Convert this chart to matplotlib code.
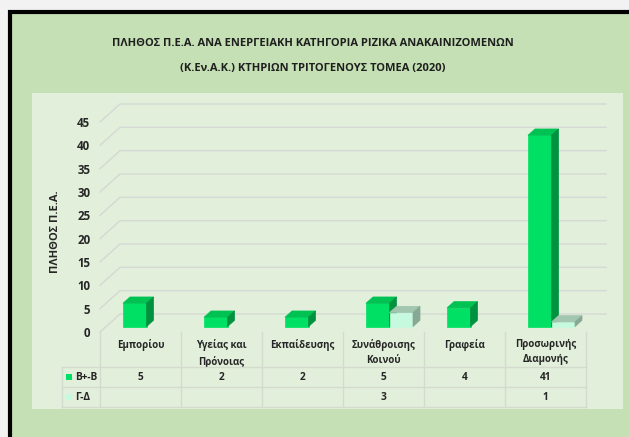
from matplotlib import font_manager
import matplotlib

matplotlib.use("Agg")

from matplotlib import pyplot as plt  # noqa: E402
from matplotlib.patches import Polygon, Rectangle  # noqa: E402

categories = ["Εμπορίου", "Υγείας και\nΠρόνοιας", "Εκπαίδευσης", "Συνάθροισης\nΚοινού",
              "Γραφεία", "Προσωρινής\nΔιαμονής"]
series_names = ["Β+-Β", "Γ-Δ"]
values_bb = [5, 2, 2, 5, 4, 41]
values_gd = [None, None, None, 3, None, 1]
y_ticks = [0, 5, 10, 15, 20, 25, 30, 35, 40, 45]

title_lines = ["ΠΛΗΘΟΣ Π.Ε.Α. ΑΝΑ ΕΝΕΡΓΕΙΑΚΗ ΚΑΤΗΓΟΡΙΑ ΡΙΖΙΚΑ ΑΝΑΚΑΙΝΙΖΟΜΕΝΩΝ",
               "(Κ.Εν.Α.Κ.) ΚΤΗΡΙΩΝ ΤΡΙΤΟΓΕΝΟΥΣ ΤΟΜΕΑ (2020)"]

installed = {f.name for f in font_manager.fontManager.ttflist}
for name in ["Liberation Sans Narrow", "DejaVu Sans Condensed", "Open Sans", "Noto Sans"]:
    if name in installed:
        font = name
        break
else:
    font = "DejaVu Sans"
plt.rcParams["font.family"] = [font, "DejaVu Sans"]

W, H = 629, 437
fig = plt.figure(figsize=(W / 100, H / 100), dpi=100, facecolor="#f2f2f2")

# outer panel and plot area (figure pixels), kept behind the axes
fig.patches.append(Rectangle((9.5 / W, -0.1), 1, 1.1 - 12.5 / H, transform=fig.transFigure,
                             facecolor="#c5e0b4", edgecolor="black", linewidth=3, zorder=-10))
fig.patches.append(Rectangle((32 / W, 1 - 409 / H), 591 / W, 316 / H, transform=fig.transFigure,
                             facecolor="#e2efda", edgecolor="none", zorder=-9))

for i, line in enumerate(title_lines):
    fig.text(313 / W, 1 - (44 + 24 * i) / H, line, ha="center", va="center",
             fontsize=8, fontweight="bold", color="#1f1f1f")

# axes = front floor plane: x -0.5..5.5 over 100..586 px, value 0..45 over 332..122 px
ax = fig.add_axes([100 / W, 1 - 332 / H, 486 / W, 210 / H])
ax.set_xlim(-0.5, len(categories) - 0.5)
ax.set_ylim(0, 45)
ax.patch.set_visible(False)
for s in ax.spines.values():
    s.set_visible(False)

unit_px = 210 / 45
cat_px = 486 / len(categories)
DX, DY = 20 / cat_px, 18 / unit_px      # full depth of the 3D box

# back wall gridlines
x0, x1 = -0.5, len(categories) - 0.5
for v in y_ticks:
    ax.plot([x0, x0 + DX, x1 + DX], [v, v + DY, v + DY], color="#d4d9d4",
            linewidth=1.0, clip_on=False, zorder=1)

ax.set_yticks(y_ticks)
ax.set_yticklabels([str(v) for v in y_ticks], fontsize=8.3, fontweight="bold", color="#262626")
ax.tick_params(axis="y", length=0, pad=7)
ax.set_xticks(range(len(categories)))
ax.set_xticklabels(categories, fontsize=7, fontweight="bold", color="#262626", linespacing=1.55)
ax.tick_params(axis="x", length=0, pad=5)
ax.set_ylabel("ΠΛΗΘΟΣ Π.Ε.Α.", fontsize=8, fontweight="bold", color="#262626")
ax.yaxis.set_label_coords(-39 / 486, (332 - 232) / 210)

bar_w = 23.5 / cat_px
f_front, f_back = 0.3, 0.65
colors = [("#00e064", "#00c253", "#00923f"), ("#c6fadf", "#a2c6b0", "#87a894")]


def draw_bar(xl, h, front, top, side):
    ox, oy = DX * f_front, DY * f_front
    dx, dy = DX * (f_back - f_front), DY * (f_back - f_front)
    xr = xl + bar_w
    ax.bar(xl + ox, h, width=bar_w, bottom=oy, align="edge", color=front,
           edgecolor=front, linewidth=0.5, zorder=3, clip_on=False)
    ax.add_patch(Polygon([(xl + ox, h + oy), (xr + ox, h + oy), (xr + ox + dx, h + oy + dy),
                          (xl + ox + dx, h + oy + dy)], closed=True, facecolor=top,
                         edgecolor=top, linewidth=0.5, zorder=3, clip_on=False))
    ax.add_patch(Polygon([(xr + ox, oy), (xr + ox + dx, oy + dy), (xr + ox + dx, h + oy + dy),
                          (xr + ox, h + oy)], closed=True, facecolor=side,
                         edgecolor=side, linewidth=0.5, zorder=3, clip_on=False))


for k, series in enumerate([values_bb, values_gd]):
    for i, v in enumerate(series):
        if v is None:
            continue
        draw_bar(i - bar_w + k * bar_w, v, *colors[k])

# data table below the plot
row_lines = [-35 / unit_px, -55 / unit_px, -75 / unit_px]
legend_left = x0 - 38 / cat_px
line_kw = dict(color="#d3dbcf", linewidth=1.0, clip_on=False, zorder=2)
for y in row_lines:
    ax.plot([legend_left, x1], [y, y], **line_kw)
for i in range(len(categories) + 1):
    ax.plot([x0 + i, x0 + i], [0, row_lines[-1]], **line_kw)
ax.plot([legend_left, legend_left], [row_lines[0], row_lines[-1]], **line_kw)

for k, series in enumerate([values_bb, values_gd]):
    yc = (row_lines[k] + row_lines[k + 1]) / 2
    ax.add_patch(Rectangle((legend_left + 4 / cat_px, yc - 3 / unit_px), 6 / cat_px, 6 / unit_px,
                           facecolor=colors[k][0], edgecolor="none", clip_on=False))
    ax.text(legend_left + 13 / cat_px, yc, series_names[k], ha="left", va="center",
            fontsize=7.3, fontweight="bold", color="#262626")
    for i, v in enumerate(series):
        if v is not None:
            ax.text(i, yc, str(v), ha="center", va="center", fontsize=7.3,
                    fontweight="bold", color="#262626")

fig.savefig("out.png", dpi=100, facecolor=fig.get_facecolor())
